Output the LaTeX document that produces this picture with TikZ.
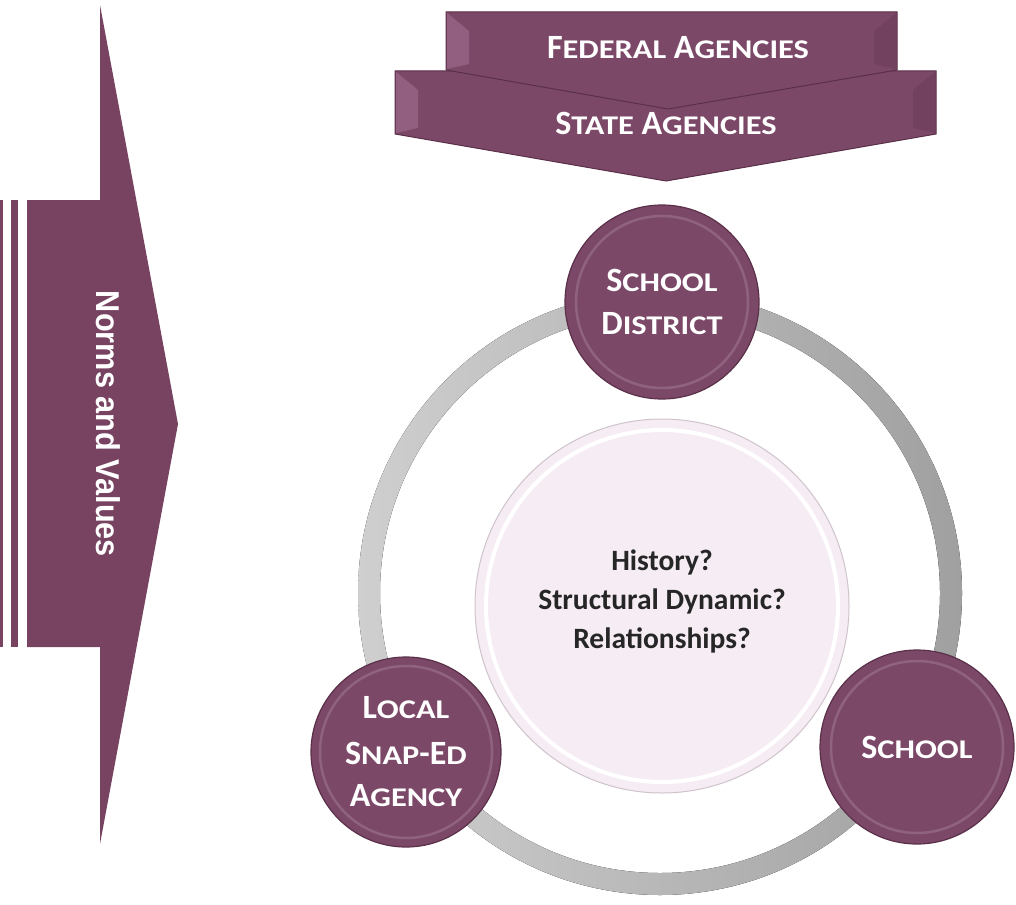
\documentclass[tikz,border=0pt]{standalone}
\usepackage{fontspec}
\setmainfont{Carlito}
\newfontfamily\narrowfont{Liberation Sans}
\definecolor{plum}{HTML}{7C4868}
\definecolor{plumdark}{HTML}{5A3049}
\definecolor{plumlight}{HTML}{B07C9E}
\definecolor{arrowplum}{HTML}{774361}
\definecolor{corefill}{HTML}{F6ECF4}
\definecolor{coreedge}{HTML}{CFC4CC}
\definecolor{ringL}{HTML}{CFCFCF}
\definecolor{ringR}{HTML}{A0A0A0}
\definecolor{coretext}{HTML}{262626}
\newcommand{\scA}[2]{{\fontsize{34}{43}\selectfont #1}{\fontsize{27}{43}\selectfont\scalebox{1.2}[1]{#2}}}
\tikzset{
  bub/.style={circle, fill=plum, draw=plumdark, line width=1.2pt, text=white,
    align=center, font=\bfseries\fontsize{34}{43}\selectfont, inner sep=0pt,
    path picture={\draw[white, opacity=0.15, line width=2.5pt]
      (path picture bounding box.center) circle[radius=86];}},
  chev/.style={fill=plum, draw=plumdark, line width=1pt},
  bevelL/.style={fill=plumlight, opacity=0.45},
  bevelR/.style={fill=plumdark, opacity=0.25},
  chevtext/.style={text=white, font=\bfseries\fontsize{34}{43}\selectfont, inner sep=0pt},
  coretxt/.style={text=coretext, font=\bfseries\fontsize{29.5}{39}\selectfont,
    align=center, inner sep=0pt}
}
\begin{document}
\begin{tikzpicture}[x=1pt,y=-1pt]
\useasboundingbox (0,0) rectangle (1016,904);
% left arrow
\fill[arrowplum] (27,200) -- (100,200) -- (100,5) -- (178,424) -- (100,844)
  -- (100,647) -- (27,647) -- cycle;
\fill[arrowplum] (0,200) rectangle (2.5,647);
\fill[arrowplum] (11,200) rectangle (18.3,647);
\node[rotate=-90, text=white, inner sep=0pt,
  font=\narrowfont\bfseries\fontsize{33}{40}\selectfont] (norms) at (108,424)
  {\scalebox{0.93}[1]{Norms and Values}};
% chevrons
\path[chev] (395,71) -- (936,71) -- (936,134) -- (666,181) -- (395,134) -- cycle;
\fill[bevelL] (396,72) -- (418,90) -- (418,128) -- (396,133) -- cycle;
\fill[bevelR] (935,72) -- (913,90) -- (913,128) -- (935,133) -- cycle;
\path[chev] (446,12) -- (897,12) -- (897,70) -- (668,109) -- (446,70) -- cycle;
\fill[bevelL] (447,13) -- (469,31) -- (469,64) -- (447,69) -- cycle;
\fill[bevelR] (896,13) -- (874,31) -- (874,64) -- (896,69) -- cycle;
\node[chevtext] (fed) at (678,48) {\scA{F}{EDERAL} \scA{A}{GENCIES}};
\node[chevtext] (state) at (666,123) {\scA{S}{TATE} \scA{A}{GENCIES}};
% ring
\fill[left color=ringL, right color=ringR, even odd rule]
  (660,593) circle[radius=302] (660,593) circle[radius=280];
% core
\node[circle, fill=corefill, draw=coreedge, line width=1pt, minimum size=374pt,
  inner sep=0pt,
  path picture={\draw[white, line width=4pt]
    (path picture bounding box.center) circle[radius=176];}] (core) at (662,606) {};
\node[coretxt] (coretxt) at (662,601) {History?\\Structural Dynamic?\\Relationships?};
% bubbles
\node[bub, minimum size=194pt] (sd) at (662,302)
  {\raisebox{-4pt}{\scA{S}{CHOOL}}\\\raisebox{-4pt}{\scA{D}{ISTRICT}}};
\node[bub, minimum size=190pt] (local) at (406,752)
  {\raisebox{5pt}{\scA{L}{OCAL}}\\[-2pt]\scA{S}{NAP}-\scA{E}{D}\\[-1pt]\scA{A}{GENCY}};
\node[bub, minimum size=194pt] (school) at (917,747) {\scA{S}{CHOOL}};
\end{tikzpicture}
\end{document}
